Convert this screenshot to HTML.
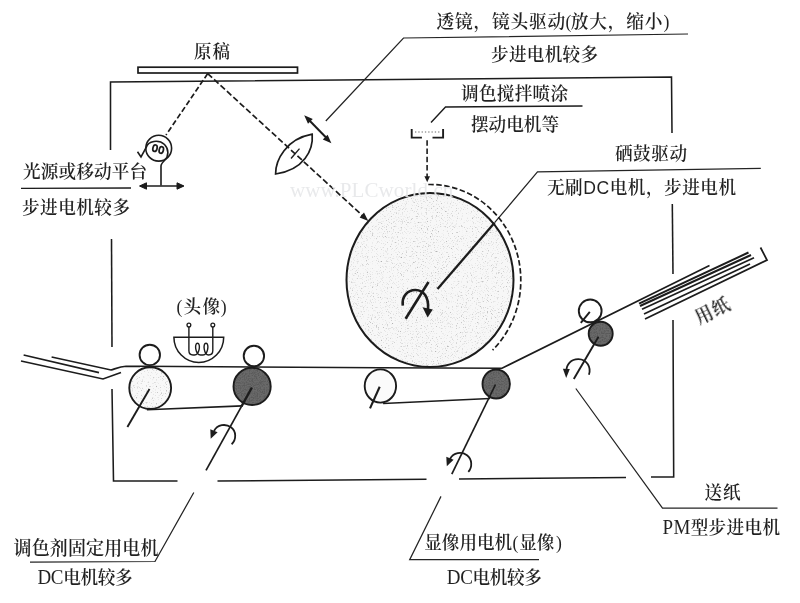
<!DOCTYPE html>
<html lang="zh">
<head>
<meta charset="utf-8">
<title>复印机电机示意图</title>
<style>
html,body{margin:0;padding:0;background:#fff;}
body{width:800px;height:603px;overflow:hidden;}
svg{display:block;}
.ln{stroke:#1c1c1c;stroke-width:1.55;fill:none;stroke-linecap:butt;}
.thin{stroke:#242424;stroke-width:1.25;fill:none;}
.ds{stroke:#1c1c1c;stroke-width:1.7;fill:none;stroke-dasharray:5.5 2.6;}
.cj{font-family:"Liberation Serif","Noto Serif CJK SC",serif;fill:#1a1a1a;font-weight:600;}
.lat{font-size:19px;font-weight:400;}
.sans{font-family:"Liberation Sans","Noto Serif CJK SC",sans-serif;font-weight:400;}
.pr{font-weight:400;}
.wm{font-family:"Liberation Serif",serif;fill:#e7e8ea;}
</style>
</head>
<body>
<svg width="800" height="603" viewBox="0 0 800 603">
<defs>
<filter id="lt" x="-5%" y="-5%" width="110%" height="110%">
  <feTurbulence type="fractalNoise" baseFrequency="0.8" numOctaves="2" seed="7"/>
  <feColorMatrix type="matrix" values="0 0 0 0 0.35  0 0 0 0 0.35  0 0 0 0 0.35  3 0 0 0 -1.75"/>
  <feComposite in2="SourceAlpha" operator="in" result="d"/>
  <feMerge><feMergeNode in="SourceGraphic"/><feMergeNode in="d"/></feMerge>
</filter>
<filter id="dk" x="-5%" y="-5%" width="110%" height="110%">
  <feTurbulence type="fractalNoise" baseFrequency="0.75" numOctaves="2" seed="11"/>
  <feColorMatrix type="matrix" values="0 0 0 0 0.1  0 0 0 0 0.1  0 0 0 0 0.1  3.2 0 0 0 -1.25"/>
  <feComposite in2="SourceAlpha" operator="in" result="d"/>
  <feMerge><feMergeNode in="SourceGraphic"/><feMergeNode in="d"/></feMerge>
</filter>
</defs>
<rect x="0" y="0" width="800" height="603" fill="#fff"/>

<!-- watermark -->

<!-- outer box -->
<g class="ln">
<path d="M110.5 150 L110.5 82 L671.5 77 L672 133"/>
<path d="M672.3 204 L673 274"/>
<path d="M673 320 L673.7 477 L651 477"/>
<path d="M626 477.5 L459 479"/>
<path d="M426.5 479.3 L217.5 481"/>
<path d="M177.5 481 L113.5 481 L112 389"/>
<path d="M112 347 L111.5 239"/>
</g>

<!-- original plate -->
<rect x="138" y="67.2" width="159.5" height="5.8" fill="#fff" stroke="#1c1c1c" stroke-width="1.7"/>

<!-- dashed light path -->
<path class="ds" d="M207.7 73.6 L166 135"/>

<!-- light source -->
<g class="ln" style="stroke-width:1.6">
<circle cx="158.7" cy="148.2" r="12.9" fill="#fff"/>
<path d="M137.5 151.7 L141 157 L146.2 147.5 C148 140.5 159 139.3 164.5 144.5 C169 149 169 156 164.5 160.5 C162 163 161 164 161 166 L161 185.5"/>
<ellipse cx="155" cy="148.2" rx="2.1" ry="3.3" transform="rotate(14 155 148.2)" stroke-width="1.7"/>
<ellipse cx="161.3" cy="150" rx="2.1" ry="3.3" transform="rotate(14 161.3 150)" stroke-width="1.7"/>
<path d="M140.5 186 L183 186"/>
<path d="M146.5 182.8 L139.5 186 L146.5 189.2 Z M177 182.8 L184 186 L177 189.2 Z" stroke-width="1" fill="#1c1c1c"/>
</g>

<!-- lens -->
<path class="ln" d="M275.6 174 C275.5 160 286 139 312.2 134.2 C313.5 150 304 170 275.6 174 Z" style="stroke-width:1.7;fill:#fff"/>
<path class="ds" d="M207.7 73.6 L364 217" style="stroke-width:1.7;stroke-dasharray:6 2.7"/>
<path d="M368.3 221 L359.6 217.6 L364 212.5 Z" fill="#1c1c1c"/>
<path class="ln" d="M291 158.5 L299.5 148.6" style="stroke-width:1.4"/>
<!-- lens arrow -->
<path class="ln" d="M308 119 L328 139.5" style="stroke-width:2"/>
<path d="M304.2 115.3 L312.8 119.0 L308.0 123.8 Z M331.4 143.2 L322.8 139.5 L327.6 134.7 Z" fill="#1c1c1c"/>

<!-- leader: lens -->
<path class="thin" d="M325.8 121 L403.5 38 L688 34"/>
<!-- leader: toner -->
<path class="ln" d="M431 122.5 L445.5 107 L582.5 106" style="stroke-width:1.4"/>
<!-- leader: drum drive -->
<path class="thin" d="M494.6 222.7 L537.5 171.8 L760.8 168.3"/>

<!-- toner device -->
<g class="ln" style="stroke-width:1.9">
<path d="M411.7 129 L411.7 137.6 L421.9 137.6"/>
<path d="M432.5 137.6 L443.1 137.6 L443.1 129"/>
<path d="M415 132 L440 132" stroke-dasharray="1.3 2" stroke-width="1.6" stroke="#9a9a9a"/>
</g>
<path class="ds" d="M427.1 140.2 L427.1 178" style="stroke-width:1.6;stroke-dasharray:5.5 2.8"/>
<path d="M427.2 182.2 L424.4 176.2 L430 176.2 Z" fill="#1c1c1c"/>

<!-- drum -->
<ellipse cx="430" cy="280" rx="83.5" ry="87" fill="#f7f7f7" filter="url(#lt)"/>
<ellipse cx="430" cy="280" rx="83.5" ry="87" fill="none" stroke="#1c1c1c" stroke-width="2"/>
<!-- dashed arc around drum -->
<path class="ds" d="M428.30 184.52 A90.5 96 0 0 1 492.60 350.13" style="stroke-dasharray:5.5 2.5"/>
<!-- drum axis -->
<path class="ln" d="M437.5 289 L494.6 222.7" style="stroke-width:2.3"/>
<path class="ln" d="M405.6 318.8 L428.5 282" style="stroke-width:2.6"/>
<path class="ln" d="M402.8 305.6 C401.5 296 408 289.8 415.6 290 C423.5 290.2 429 297 428 309" style="stroke-width:2.6"/>
<path d="M427.6 317.6 L422.6 307.2 L432.8 309.6 Z" fill="#1c1c1c"/>

<!-- belt & paper path -->
<g class="ln" style="stroke-width:1.65">
<path d="M140 366.3 L380 367.7 L502 368.2 L709.5 265.5"/>
<path d="M146.9 409.8 L242.5 405.9"/>
<path d="M383.1 403.5 L490 398.5"/>
</g>

<!-- fixing rollers -->
<circle cx="150.2" cy="388.1" r="20.9" fill="#f8f8f8" filter="url(#lt)"/>
<circle class="ln" cx="150.2" cy="388.1" r="20.9" style="stroke-width:1.9"/>
<circle class="ln" cx="149.8" cy="354.9" r="10.2" style="stroke-width:1.9;fill:#fff"/>
<circle cx="252.1" cy="386.4" r="18.6" fill="#6a6a6a" filter="url(#dk)"/>
<circle class="ln" cx="252.1" cy="386.4" r="18.6" style="stroke-width:1.9"/>
<circle class="ln" cx="253.9" cy="356" r="10.2" style="stroke-width:1.9;fill:#fff"/>
<path class="ln" d="M149.5 388.9 L127.4 427" style="stroke-width:1.9"/>
<path class="ln" d="M251.9 387.5 L241.5 406.3" style="stroke-width:2.4"/><path class="ln" d="M241.5 406.3 L206 470.3" style="stroke-width:1.7"/>
<path class="thin" d="M193.8 492.5 L155 561.5 L30 562"/>
<!-- rotation arrow fixing -->
<path class="ln" d="M231.6 444.2 C236.5 440 236.5 431 231 427.3 C225.5 423.3 217.5 424.5 214 431" style="stroke-width:1.8"/>
<path d="M210.7 438.8 L210.3 429.3 L217.6 432.2 Z" fill="#1c1c1c"/>

<!-- heater lamp -->
<g class="ln" style="stroke-width:1.5">
<path d="M173.9 337.2 L223.7 337.2 A24.9 25.2 0 0 1 173.9 337.2 Z" fill="#fff"/>
<circle cx="188.9" cy="325.1" r="1.9" fill="#fff" stroke-width="1.3"/>
<circle cx="212.8" cy="325.1" r="1.9" fill="#fff" stroke-width="1.3"/>
<path d="M188.9 327 L188.9 350.5 Q188.9 355 193 355 L194.5 355 C199.5 355 201 343.2 197.5 343.2 C194 343.2 195.5 355 200.5 355 L203 355 C208 355 209.5 343.2 206 343.2 C202.5 343.2 204 355 208.5 355 Q212.8 355 212.8 350.5 L212.8 327" stroke-width="1.4"/>
</g>

<!-- paper exit (left) -->
<g class="ln" style="stroke-width:1.65">
<path d="M23.6 355 L99 372.6"/>
<path d="M51.6 357 L111 370 C116 368.5 120 366.6 126 366.3 L140 366.3"/>
<path d="M21 361 L103 379 L121 372.4"/>
</g>

<!-- developer rollers -->
<ellipse class="ln" cx="380.4" cy="386" rx="15.7" ry="16.6" style="stroke-width:1.9;fill:#fbfbfb"/>
<path class="ln" d="M379.7 386.8 L370 408.4" style="stroke-width:2.1"/>
<ellipse cx="496.2" cy="384" rx="13.7" ry="14.5" fill="#6a6a6a" filter="url(#dk)"/><ellipse class="ln" cx="496.2" cy="384" rx="13.7" ry="14.5" style="stroke-width:1.9"/>
<path class="ln" d="M495.5 384.5 L451.8 474.1" style="stroke-width:1.7"/>
<path class="thin" d="M441 496.4 L409.7 559.6 L539 559.6"/>
<path class="ln" d="M468.3 471.8 C472.5 467.5 472.3 459 467 455.2 C461.5 451.3 453.5 452.5 450 459" style="stroke-width:1.8"/>
<path d="M446.8 466.3 L446.3 456.8 L453.6 459.8 Z" fill="#1c1c1c"/>

<!-- feed rollers -->
<circle class="ln" cx="590.2" cy="310.9" r="11.4" style="stroke-width:1.9"/>
<path class="ln" d="M580.8 322.8 L589.8 311.8" style="stroke-width:1.9"/>
<circle cx="600.7" cy="333.75" r="12" fill="#6a6a6a" filter="url(#dk)"/><circle class="ln" cx="600.7" cy="333.75" r="12" style="stroke-width:1.9"/>
<path class="ln" d="M598.5 336.7 L573.8 378.9" style="stroke-width:1.9"/>
<path class="ln" d="M588.9 374.8 C591.5 367.5 587 359.3 578.4 359.1 C571 359 566.3 364.5 566.4 371" style="stroke-width:1.8"/>
<path d="M566.2 378 L562.9 368.8 L569.8 369 Z" fill="#1c1c1c"/>
<path class="thin" d="M575.8 388.5 L662.5 508 L777.5 508"/>

<!-- paper stack -->
<g class="ln" style="stroke-width:1.75">
<path d="M639 303.6 L748.5 252.5" stroke-width="2"/>
<path d="M640 306 L751 255" stroke-width="2"/>
<path d="M642 309.3 L754 257.8"/>
<path d="M644 314 L750 264"/>
<path d="M645 319 L767 260 L760.5 247.5"/>
</g>

<!-- labels -->
<g class="cj" opacity="0.97">
<text transform="translate(194 57.5) scale(1 1.06)" font-size="17.5" textLength="36">原稿</text>
<text transform="translate(23 178.3) scale(1 1.06)" font-size="17.6" textLength="124">光源或移动平台</text>
<text transform="translate(22 214) scale(1 1.06)" font-size="17.6" textLength="108">步进电机较多</text>
<text transform="translate(0 28) scale(1 1.06)" font-size="17.7"><tspan x="436.5" letter-spacing="0.8">透镜，镜头驱动</tspan><tspan class="pr" x="565.6">(</tspan><tspan x="570.8" letter-spacing="0.8">放大，缩小</tspan><tspan class="pr" x="663.4">)</tspan></text>
<text transform="translate(491 60.5) scale(1 1.06)" font-size="17.6" textLength="107">步进电机较多</text>
<text transform="translate(461 99.5) scale(1 1.06)" font-size="17.6" textLength="107">调色搅拌喷涂</text>
<text transform="translate(471 130.5) scale(1 1.06)" font-size="17.6" textLength="88">摆动电机等</text>
<text transform="translate(615 159.5) scale(1 1.06)" font-size="17.6" textLength="72">硒鼓驱动</text>
<text transform="translate(547 194) scale(1 1.06)" font-size="17.6" textLength="189">无刷<tspan class="sans">DC</tspan>电机，步进电机</text>
<text transform="translate(13.5 554.5) scale(1 1.06)" font-size="18" textLength="145">调色剂固定用电机</text>
<text transform="translate(37.5 584) scale(1 1.06)" font-size="17.6" textLength="95"><tspan class="lat">DC</tspan>电机较多</text>
<text transform="translate(0 548.5) scale(1 1.06)" font-size="17.6"><tspan x="424.2">显像用电机</tspan><tspan class="pr" x="512.6">(</tspan><tspan x="519.2">显像</tspan><tspan class="pr" x="556">)</tspan></text>
<text transform="translate(446.8 584) scale(1 1.06)" font-size="17.6" textLength="95"><tspan class="lat">DC</tspan>电机较多</text>
<text transform="translate(704.5 498.5) scale(1 1.06)" font-size="17.6" textLength="36">送纸</text>
<text transform="translate(662.5 533.5) scale(1 1.06)" font-size="17.6" textLength="117.5"><tspan class="lat">PM</tspan>型步进电机</text>
<text transform="translate(0 313) scale(1 1.06)" font-size="17.6"><tspan class="pr" x="176.6">(</tspan><tspan x="183.5" textLength="36.5">头像</tspan><tspan class="pr" x="220.8">)</tspan></text>
<text font-size="17.6" textLength="36" transform="translate(699 324.5) rotate(-26) scale(1 1.06)">用纸</text>
</g>
<path class="ln" d="M21 188.3 L131 188" style="stroke-width:1.3"/>
<text class="wm" x="290" y="196.5" font-size="21" textLength="163.3" opacity="0.92">www.PLCworld.cn</text>
</svg>
</body>
</html>
